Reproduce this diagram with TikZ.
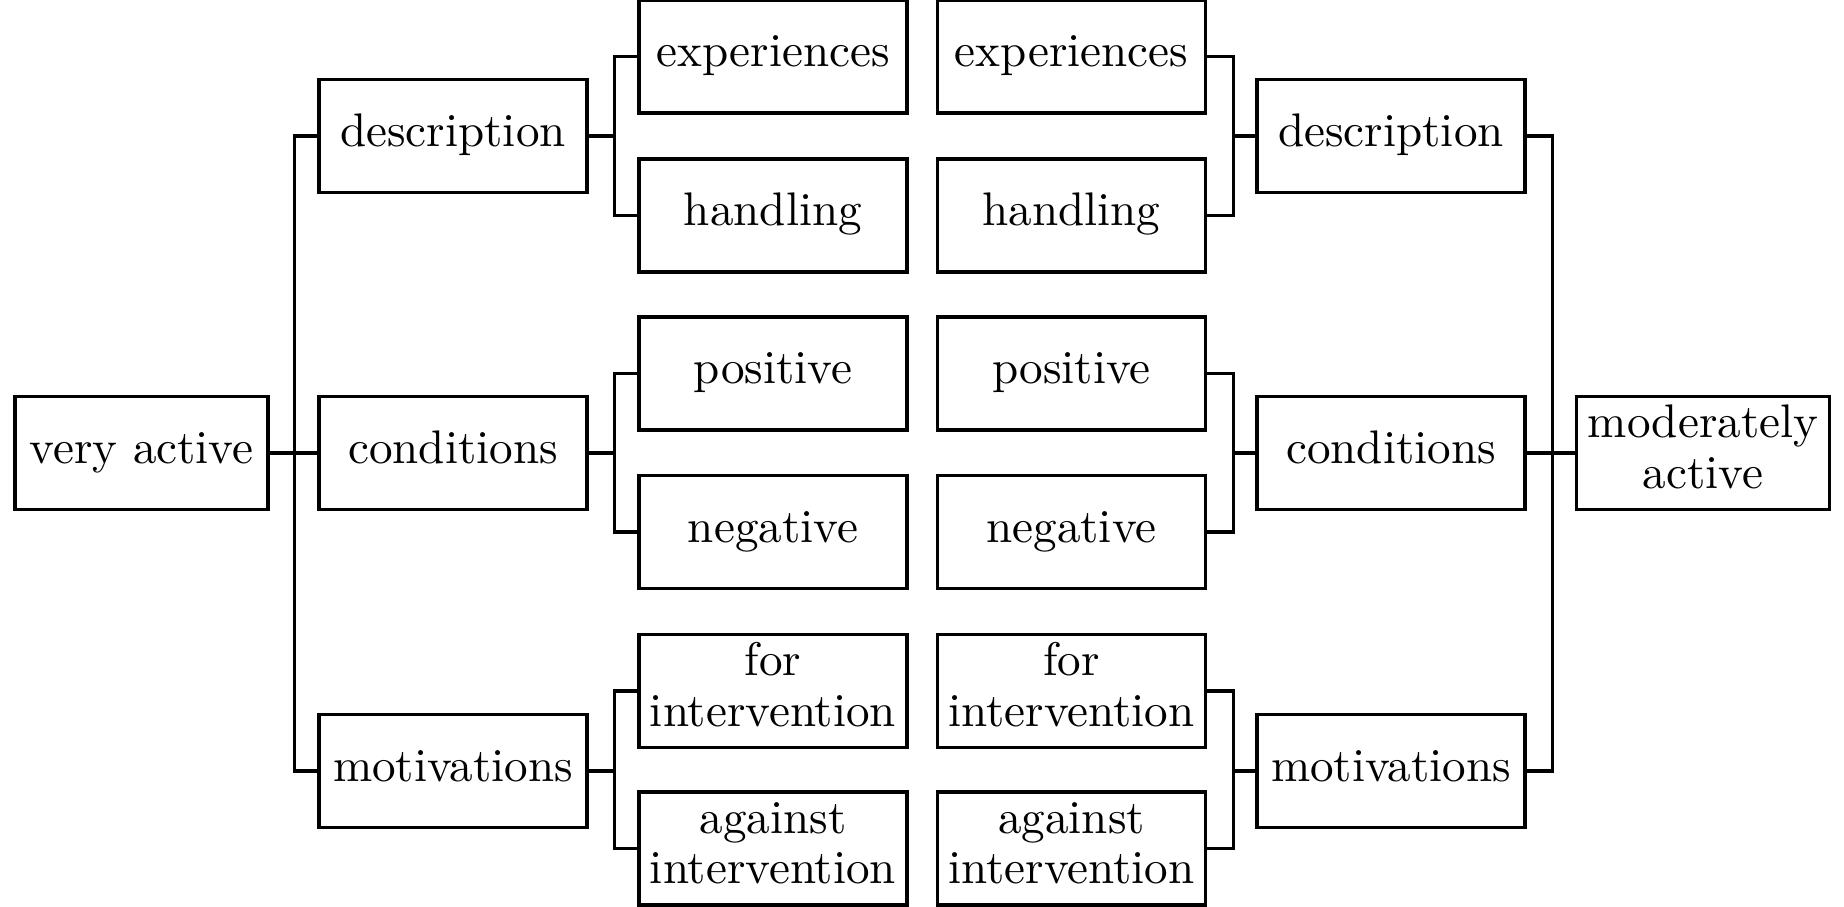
\documentclass[tikz,border=0pt]{standalone}
\begin{document}
\begin{tikzpicture}[x=0.2123pt,y=-0.2123pt,
  box/.style={draw, line width=0.7pt, minimum width=56.9pt, minimum height=24pt, text width=54pt, align=center, inner sep=0pt,
    font=\fontsize{10}{10.7}\selectfont, execute at begin node=\strut, execute at end node=\strut},
  rootbox/.style={box, minimum width=53.7pt, text width=50pt},
  conn/.style={line width=0.7pt}]
\useasboundingbox (0,0) rectangle (1844,907);
% roots
\node[rootbox] (va) at (141.5,453) {very active};
\node[rootbox] (ma) at (1703,453) {moderately active};
% left level 1
\node[box] (ld) at (453,136) {description};
\node[box] (lc) at (453,453) {conditions};
\node[box] (lm) at (453,771) {motivations};
% left leaves
\node[box] (le) at (773,56.5) {experiences};
\node[box] (lh) at (773,215.5) {handling};
\node[box] (lp) at (773,373.5) {positive};
\node[box] (ln) at (773,532) {negative};
\node[box] (lf) at (773,691) {for\\intervention};
\node[box] (la) at (773,848.5) {against\\intervention};
% right leaves
\node[box] (re) at (1071.5,56.5) {experiences};
\node[box] (rh) at (1071.5,215.5) {handling};
\node[box] (rp) at (1071.5,373.5) {positive};
\node[box] (rn) at (1071.5,532) {negative};
\node[box] (rf) at (1071.5,691) {for\\intervention};
\node[box] (ra) at (1071.5,848.5) {against\\intervention};
% right level 1
\node[box] (rd) at (1391,136) {description};
\node[box] (rc) at (1391,453) {conditions};
\node[box] (rm) at (1391,771) {motivations};
% connectors left
\draw[conn] (va.east) -- ++(25,0) |- (ld.west);
\draw[conn] (va.east) -- ++(25,0) |- (lc.west);
\draw[conn] (va.east) -- ++(25,0) |- (lm.west);
\draw[conn] (ld.east) -- ++(26,0) |- (le.west);
\draw[conn] (ld.east) -- ++(26,0) |- (lh.west);
\draw[conn] (lc.east) -- ++(26,0) |- (lp.west);
\draw[conn] (lc.east) -- ++(26,0) |- (ln.west);
\draw[conn] (lm.east) -- ++(26,0) |- (lf.west);
\draw[conn] (lm.east) -- ++(26,0) |- (la.west);
% connectors right
\draw[conn] (re.east) -- ++(26,0) |- (rd.west);
\draw[conn] (rh.east) -- ++(26,0) |- (rd.west);
\draw[conn] (rp.east) -- ++(26,0) |- (rc.west);
\draw[conn] (rn.east) -- ++(26,0) |- (rc.west);
\draw[conn] (rf.east) -- ++(26,0) |- (rm.west);
\draw[conn] (ra.east) -- ++(26,0) |- (rm.west);
\draw[conn] (rd.east) -- ++(26,0) |- (ma.west);
\draw[conn] (rc.east) -- ++(26,0) |- (ma.west);
\draw[conn] (rm.east) -- ++(26,0) |- (ma.west);
\end{tikzpicture}
\end{document}
